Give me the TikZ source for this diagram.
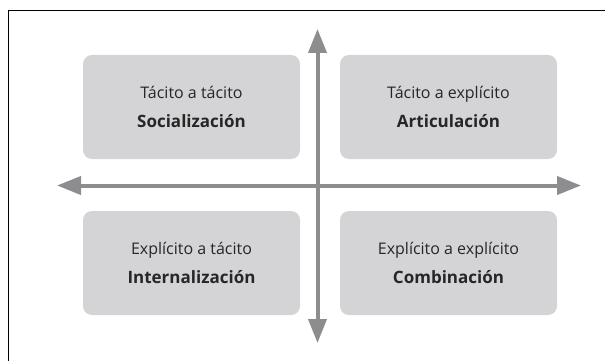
\documentclass[tikz,border=0pt]{standalone}
\usepackage{fontspec}
\setmainfont{Open Sans}
\usepackage{xcolor}
\usetikzlibrary{
	arrows.meta,
	positioning,
}
\definecolor{boxgray}{HTML}{D4D4D6}
\definecolor{axisgray}{HTML}{8D8D90}
\tikzset{
	quadbox/.style={fill=boxgray, rounded corners=9pt, minimum width=217pt, minimum height=104pt, align=center, text=black!85, font=\fontsize{16pt}{29pt}\selectfont},
	axisarrow/.style={draw=axisgray, line width=4pt, -{Triangle[length=24pt,width=18pt]}},
}
\newcommand{\boldline}[1]{{\fontsize{17pt}{29pt}\selectfont\bfseries #1}}

\begin{document}
\begin{tikzpicture}[x=1pt,y=-1pt]
	\useasboundingbox (0,0) rectangle (605,361);
	% frame, only top and left edge fall inside
	\draw[line width=1.3pt] (8.5,361) -- (8.5,10.5) -- (605,10.5);

	\node[quadbox] (soc) at (191.5,107) {Tácito a tácito\\\boldline{Socialización}};
	\node[quadbox] (art) at (448.5,107) {Tácito a explícito\\\boldline{Articulación}};
	\node[quadbox] (int) at (191.5,263) {Explícito a tácito\\\boldline{Internalización}};
	\node[quadbox] (com) at (448.5,263) {Explícito a explícito\\\boldline{Combinación}};

	% axes
	\coordinate (center) at (317.5,185.5);
	\coordinate (top) at (317.5,29);
	\coordinate (bottom) at (317.5,343);
	\coordinate (left) at (57,185.5);
	\coordinate (right) at (581,185.5);
	\draw[axisarrow] (center) -- (top);
	\draw[axisarrow] (center) -- (bottom);
	\draw[axisarrow] (center) -- (left);
	\draw[axisarrow] (center) -- (right);
\end{tikzpicture}
\end{document}
